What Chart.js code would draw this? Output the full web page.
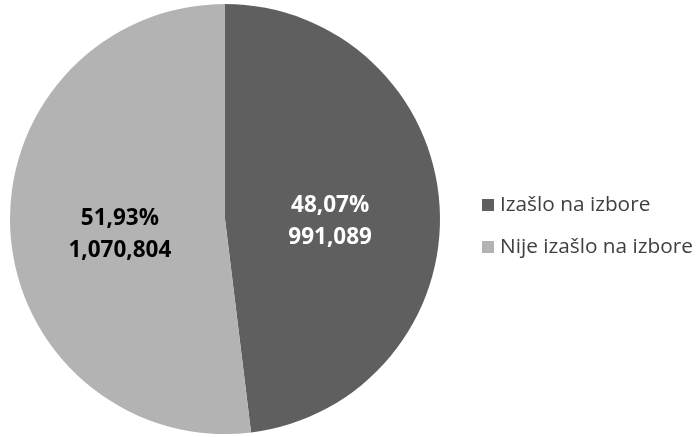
<!DOCTYPE html>
<html><head><meta charset="utf-8">
<script src="https://cdn.jsdelivr.net/npm/chart.js@4"></script>
<style>html,body{margin:0;padding:0;background:#fff}#w{position:relative;width:699px;height:437px}</style>
</head><body><div id="w"><canvas id="c" width="699" height="437"></canvas></div>
<script>
const categories = ["Izašlo na izbore", "Nije izašlo na izbore"];
const values = [991089, 1070804];
const percentLabels = ["48,07%", "51,93%"];
const countLabels = ["991,089", "1,070,804"];
const colors = ["#5f5f5f", "#b3b3b3"];
const labelColors = ["#ffffff", "#000000"];

const labelPlugin = {
  id: 'labels',
  afterDatasetsDraw(chart) {
    const ctx = chart.ctx;
    const meta = chart.getDatasetMeta(0);
    ctx.save();
    ctx.font = 'bold 22.5px "Open Sans", sans-serif';
    ctx.textAlign = 'center';
    ctx.textBaseline = 'middle';
    meta.data.forEach((arc, i) => {
      const p = arc.getProps(['x','y','startAngle','endAngle','outerRadius']);
      const mid = (p.startAngle + p.endAngle) / 2;
      const r = p.outerRadius * 0.49;
      const x = p.x + Math.cos(mid) * r;
      const y = p.y + Math.sin(mid) * r + 9;
      ctx.fillStyle = labelColors[i];
      ctx.fillText(percentLabels[i], x, y - 16);
      ctx.fillText(countLabels[i], x, y + 16);
    });
    ctx.restore();
  }
};
const legendPlugin = {
  id: 'customLegend',
  afterDraw(chart) {
    const ctx = chart.ctx;
    ctx.save();
    ctx.font = '20.8px "Open Sans", sans-serif';
    ctx.textBaseline = 'middle';
    ctx.textAlign = 'left';
    categories.forEach((c, i) => {
      const y = 205 + i * 42;
      ctx.fillStyle = colors[i];
      ctx.fillRect(482, y - 6, 12, 12);
      ctx.fillStyle = '#404040';
      ctx.fillText(c, 500, y);
    });
    ctx.restore();
  }
};

new Chart(document.getElementById('c'), {
  type: 'pie',
  data: { labels: categories, datasets: [{ data: values, backgroundColor: colors, borderWidth: 0 }] },
  options: {
    responsive: false, animation: false,
    layout: { padding: { left: 10, right: 259, top: 4, bottom: 3 } },
    plugins: { legend: { display: false }, tooltip: { enabled: false } }
  },
  plugins: [labelPlugin, legendPlugin]
});
</script></body></html>
